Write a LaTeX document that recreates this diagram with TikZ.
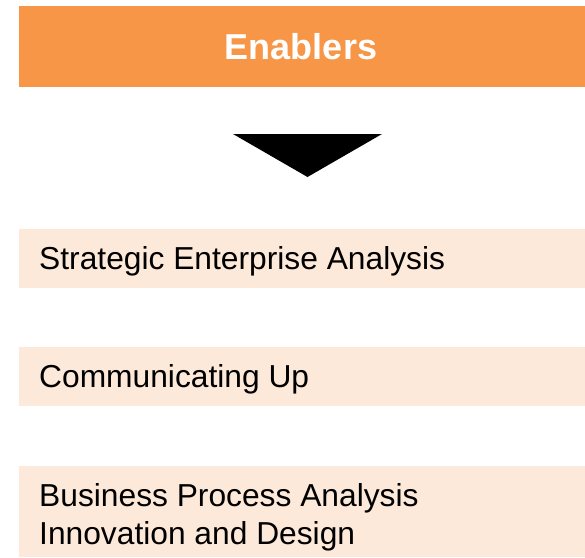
\documentclass[tikz,border=0pt]{standalone}
\usepackage{fontspec}
\setmainfont{Liberation Sans}
\definecolor{hdrorange}{HTML}{F79646}
\definecolor{peach}{HTML}{FDE9D9}
\begin{document}
\begin{tikzpicture}[x=1pt,y=-1pt,
  hdr/.style={fill=hdrorange, draw=none, inner sep=0, anchor=north west, minimum width=566pt, minimum height=81pt},
  panel/.style={fill=peach, draw=none, inner sep=0, anchor=north west, minimum width=566pt},
  hdrtext/.style={anchor=base, inner sep=0, text=white, font=\fontsize{36}{43}\selectfont\bfseries},
  paneltext/.style={anchor=base west, inner sep=0, align=left, font=\fontsize{31.75}{38}\selectfont}]
\useasboundingbox (0,0) rectangle (585,557);
\node[hdr] (header) at (19,6) {};
\node[hdrtext] (enablers) at (301,59) {Enablers};
\fill (233,134) -- (382,134) -- (307.5,177) -- cycle;
\node[panel, minimum height=59pt] (p1) at (19,229) {};
\node[paneltext] (t1) at (39,269) {Strategic Enterprise Analysis};
\node[panel, minimum height=59pt] (p2) at (19,347) {};
\node[paneltext] (t2) at (39,387) {Communicating Up};
\node[panel, minimum height=91pt] (p3) at (19,466) {};
\node[paneltext] (t3a) at (39,506) {Business Process Analysis};
\node[paneltext] (t3b) at (39,544) {Innovation and Design};
\end{tikzpicture}
\end{document}
